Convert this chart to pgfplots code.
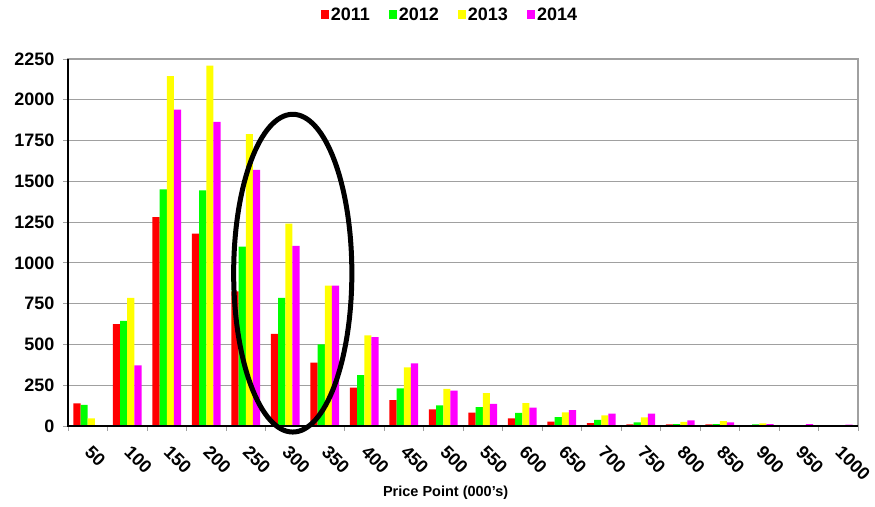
\documentclass[border=0pt]{standalone}
\usepackage{fontspec}
\setmainfont{Liberation Sans}
\usepackage{pgfplots}
\usepackage{pgfplotstable}
\pgfplotsset{compat=1.18}
\definecolor{gridgray}{HTML}{A0A0A0}
\definecolor{c2011}{HTML}{FF0000}
\definecolor{c2012}{HTML}{00FF00}
\definecolor{c2013}{HTML}{FFFF00}
\definecolor{c2014}{HTML}{FF00FF}

\pgfplotstableread{
idx y2011 y2012 y2013 y2014
0   139   129   47    0
1   625   645   785   372
2   1280  1450  2145  1940
3   1180  1445  2210  1865
4   825   1100  1790  1570
5   565   785   1240  1105
6   388   500   860   860
7   235   312   555   545
8   159   231   360   384
9   102   127   227   217
10  82    116   202   135
11  47    80    141   112
12  27    55    84    98
13  18    37    65    76
14  10    22    53    76
15  10    12    25    35
16  10    12    30    22
17  4     10    16    12
18  3     3     3     12
19  0     3     3     8
}\pricedata

\begin{document}
\begin{tikzpicture}[font=\fontsize{18}{20}\selectfont\bfseries]
\path (-68pt,-80pt) rectangle (807pt,426pt);
\begin{axis}[
  at={(0,0)},anchor=south west,scale only axis,
  width=790pt,height=367pt,
  ybar=0pt,bar width=0.183,
  xmin=-0.5,xmax=19.5,ymin=0,ymax=2250,
  xtick={0,...,19},
  xticklabels={50,100,150,200,250,300,350,400,450,500,550,600,650,700,750,800,850,900,950,1000},
  minor xtick={-0.5,0.5,...,19.5},
  major x tick style={draw=none},
  minor x tick style={gridgray,line width=0.8pt},
  minor tick length=5pt,
  ytick={0,250,...,2250},
  major tick length=5pt,
  y tick style={gridgray,line width=0.8pt},
  tick align=outside,xtick pos=bottom,ytick pos=left,
  ymajorgrids,grid style={gridgray,line width=0.9pt},
  axis line style={gridgray,line width=1pt},
  /pgf/number format/assume math mode=true,
  /pgf/number format/1000 sep={},
  yticklabel style={xshift=-5pt},
  xticklabel style={rotate=-45,anchor=north west,inner sep=0pt,yshift=-6pt,xshift=13pt},
  xlabel={Price Point (000's)},
  xlabel style={font=\fontsize{14.5}{16}\selectfont\bfseries,at={(axis description cs:0.478,-0.1826)},anchor=center},
  legend style={at={(0.4835,1.12)},anchor=center,legend columns=-1,draw=none,fill=none,
    font=\fontsize{18}{20}\selectfont\bfseries,
    /tikz/every even column/.append style={column sep=17pt}},
  legend image code/.code={\fill[#1] (0pt,-4.5pt) rectangle (8pt,4.5pt);},
  clip=false,
  every axis plot/.append style={draw=none},
]
\addplot[fill=c2011] table[x=idx,y=y2011] {\pricedata};
\addplot[fill=c2012] table[x=idx,y=y2012] {\pricedata};
\addplot[fill=c2013] table[x=idx,y=y2013] {\pricedata};
\addplot[fill=c2014] table[x=idx,y=y2014] {\pricedata};
\legend{2011,2012,2013,2014}
\draw[gridgray,line width=2.5pt] (rel axis cs:1,0) -- (rel axis cs:1,1);
\draw[black,line width=1.4pt] (rel axis cs:0,1) -- (rel axis cs:0,0) -- (rel axis cs:1,0);
\draw[black,line width=5pt] (axis cs:5.19,937) ellipse [x radius=1.496, y radius=974];
\end{axis}
\end{tikzpicture}
\end{document}
